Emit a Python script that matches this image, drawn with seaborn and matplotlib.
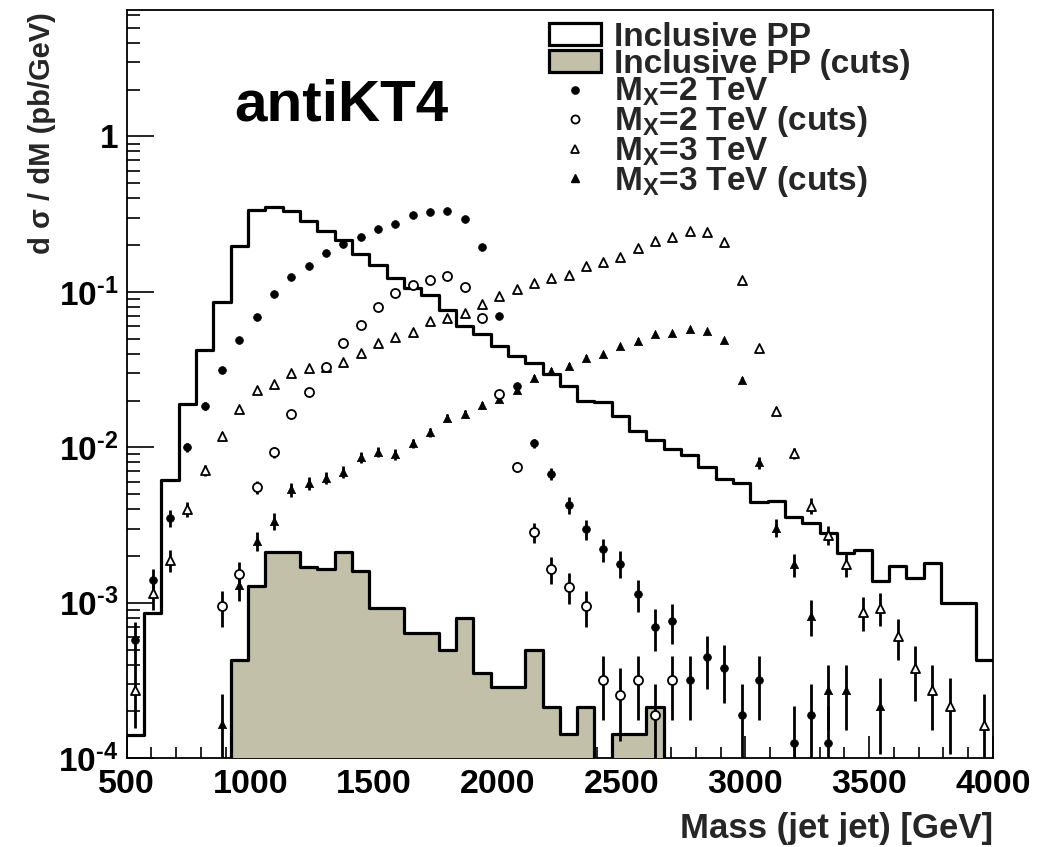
import numpy as np
import pandas as pd
import matplotlib
matplotlib.use("Agg")
import matplotlib.pyplot as plt
import seaborn as sns
from matplotlib.patches import Patch
from matplotlib.lines import Line2D
from matplotlib.ticker import FixedLocator, FixedFormatter, LogLocator, NullFormatter, MultipleLocator

nan = np.nan

# ---------------- data ----------------
bin_edges = list(range(500, 4001, 70))          # 50 bins of 70 GeV
bin_centers = np.array(bin_edges[:-1]) + 35

incl_pp = [1.42e-4, 8.6e-4, 6.15e-3, 0.0189, 0.0423, 0.0859, 0.196, 0.337, 0.354, 0.332,
           0.286, 0.248, 0.214, 0.176, 0.148, 0.122, 0.106, 0.0957, 0.0766, 0.0604,
           0.0537, 0.0451, 0.0389, 0.0347, 0.0295, 0.0249, 0.0199, 0.0197, 0.0160, 0.0127,
           0.0111, 0.00975, 0.0089, 0.0075, 0.00625, 0.00586, 0.00447, 0.00453, 0.00357, 0.00324,
           0.00280, 0.00208, 0.00220, 0.00138, 0.00172, 0.00145, 0.00181, 0.0010, 0.0010, 4.27e-4]

incl_pp_cuts = [0, 0, 0, 0, 0, 0, 4.27e-4, 1.28e-3, 2.11e-3, 2.11e-3,
                1.70e-3, 1.65e-3, 2.11e-3, 1.60e-3, 9.33e-4, 9.33e-4, 6.44e-4, 6.44e-4, 5.0e-4, 7.93e-4,
                3.56e-4, 2.88e-4, 2.88e-4, 5.0e-4, 2.14e-4, 1.44e-4, 2.14e-4, 0, 1.44e-4, 1.44e-4,
                2.14e-4, 0, 0, 0, 0, 0, 0, 0, 0, 0,
                0, 0, 0, 0, 0, 0, 0, 0, 0, 0]

mx2 = [5.74e-4, 1.40e-3, 3.52e-3, 0.0100, 0.0185, 0.0315, 0.0491, 0.0687, 0.0966, 0.124,
       0.146, 0.178, 0.203, 0.224, 0.253, 0.274, 0.313, 0.326, 0.332, 0.294,
       0.193, 0.0703, 0.0249, 0.0106, 6.73e-3, 4.25e-3, 2.98e-3, 2.21e-3, 1.79e-3, 1.14e-3,
       7.0e-4, 7.61e-4, 3.17e-4, 4.45e-4, 3.81e-4, 1.89e-4, 3.17e-4, nan, 1.26e-4, 1.89e-4,
       1.26e-4, nan, nan, nan, nan, nan, nan, nan, nan, nan]
mx2_err = [1.8e-4, 2.6e-4, 4.3e-4, 7.2e-4, 9.9e-4, 1.3e-3, 1.6e-3, 1.9e-3, 2.25e-3, 2.55e-3,
           2.8e-3, 3.05e-3, 3.3e-3, 3.4e-3, 3.6e-3, 3.8e-3, 4.05e-3, 4.1e-3, 4.2e-3, 3.9e-3,
           3.2e-3, 1.9e-3, 1.15e-3, 7.5e-4, 6.0e-4, 5.2e-4, 4.4e-4, 3.7e-4, 3.5e-4, 2.7e-4,
           2.1e-4, 2.2e-4, 1.4e-4, 1.65e-4, 1.55e-4, 1.1e-4, 1.4e-4, nan, 0.9e-4, 1.1e-4,
           0.9e-4, nan, nan, nan, nan, nan, nan, nan, nan, nan]

mx2_cuts = [nan, nan, nan, nan, nan, 9.5e-4, 1.53e-3, 5.53e-3, 9.29e-3, 0.0164,
            0.0228, 0.0330, 0.0472, 0.0613, 0.0797, 0.099, 0.111, 0.119, 0.127, 0.108,
            0.0684, 0.0221, 7.5e-3, 2.86e-3, 1.65e-3, 1.27e-3, 9.5e-4, 3.17e-4, 2.54e-4, 3.17e-4,
            1.89e-4, 3.17e-4, nan, nan, nan, nan, nan, nan, nan, nan,
            nan, nan, nan, nan, nan, nan, nan, nan, nan, nan]
mx2_cuts_err = [nan, nan, nan, nan, nan, 2.5e-4, 3.0e-4, 5.5e-4, 7.0e-4, 9.0e-4,
                1.05e-3, 1.3e-3, 1.5e-3, 1.75e-3, 2.0e-3, 2.2e-3, 2.3e-3, 2.4e-3, 2.5e-3, 2.3e-3,
                1.8e-3, 1.05e-3, 6.0e-4, 4.2e-4, 3.25e-4, 2.85e-4, 2.5e-4, 1.4e-4, 1.25e-4, 1.4e-4,
                1.1e-4, 1.4e-4, nan, nan, nan, nan, nan, nan, nan, nan,
                nan, nan, nan, nan, nan, nan, nan, nan, nan, nan]

mx3 = [2.77e-4, 1.15e-3, 1.88e-3, 4.0e-3, 7.14e-3, 0.0118, 0.0176, 0.0234, 0.0256, 0.0302,
       0.0323, 0.0330, 0.0356, 0.0403, 0.0472, 0.0510, 0.0555, 0.0653, 0.0684, 0.0736,
       0.0833, 0.0947, 0.1046, 0.1138, 0.1236, 0.1286, 0.1477, 0.155, 0.1687, 0.191,
       0.211, 0.224, 0.245, 0.241, 0.209, 0.119, 0.0434, 0.0171, 9.15e-3, 4.21e-3,
       2.72e-3, 1.77e-3, 8.74e-4, 9.33e-4, 6.09e-4, 3.81e-4, 2.74e-4, 2.17e-4, nan, 1.64e-4]
mx3_err = [1.2e-4, 2.5e-4, 3.0e-4, 4.5e-4, 6.0e-4, 7.9e-4, 9.6e-4, 1.1e-3, 1.15e-3, 1.25e-3,
           1.3e-3, 1.3e-3, 1.4e-3, 1.45e-3, 1.6e-3, 1.65e-3, 1.7e-3, 1.85e-3, 1.9e-3, 2.0e-3,
           2.1e-3, 2.25e-3, 2.35e-3, 2.45e-3, 2.55e-3, 2.6e-3, 2.8e-3, 2.85e-3, 3.0e-3, 3.2e-3,
           3.35e-3, 3.45e-3, 3.6e-3, 3.6e-3, 3.35e-3, 2.5e-3, 1.5e-3, 9.5e-4, 7.0e-4, 5.0e-4,
           3.8e-4, 3.1e-4, 2.15e-4, 2.2e-4, 1.83e-4, 1.47e-4, 1.22e-4, 1.1e-4, nan, 0.97e-4]

mx3_cuts = [nan, nan, nan, nan, nan, 1.65e-4, 1.31e-3, 2.5e-3, 3.37e-3, 5.37e-3,
            5.86e-3, 6.37e-3, 6.97e-3, 8.62e-3, 9.37e-3, 9.0e-3, 0.0106, 0.0125, 0.0154, 0.0164,
            0.0187, 0.0205, 0.0235, 0.0278, 0.0311, 0.0335, 0.0378, 0.0397, 0.0449, 0.0486,
            0.0534, 0.0542, 0.0578, 0.0563, 0.0491, 0.0271, 8.0e-3, 3.04e-3, 1.77e-3, 8.24e-4,
            2.74e-4, 2.74e-4, nan, 2.17e-4, nan, nan, nan, nan, nan, nan]
mx3_cuts_err = [nan, nan, nan, nan, nan, 0.96e-4, 2.9e-4, 3.6e-4, 4.2e-4, 5.5e-4,
                5.6e-4, 5.8e-4, 6.1e-4, 6.7e-4, 7.0e-4, 6.9e-4, 7.5e-4, 8.1e-4, 9.0e-4, 9.3e-4,
                1.0e-3, 1.05e-3, 1.1e-3, 1.2e-3, 1.28e-3, 1.33e-3, 1.4e-3, 1.45e-3, 1.55e-3, 1.6e-3,
                1.68e-3, 1.7e-3, 1.75e-3, 1.72e-3, 1.6e-3, 1.2e-3, 7.0e-4, 4.0e-4, 3.05e-4, 2.15e-4,
                1.22e-4, 1.22e-4, nan, 1.1e-4, nan, nan, nan, nan, nan, nan]

y_ticks = [1e-4, 1e-3, 1e-2, 1e-1, 1]
y_tick_labels = ["$10^{\u20104}$", "$10^{\u20103}$", "$10^{\u20102}$", "$10^{\u20101}$", "1"]
x_ticks = [500, 1000, 1500, 2000, 2500, 3000, 3500, 4000]
legend_labels = ["Inclusive PP", "Inclusive PP (cuts)", r"M$_{X}$=2 TeV",
                 r"M$_{X}$=2 TeV (cuts)", r"M$_{X}$=3 TeV", r"M$_{X}$=3 TeV (cuts)"]

# ---------------- style ----------------
sns.set_theme(style="white")
plt.rcParams["font.family"] = ["Liberation Sans", "DejaVu Sans"]
plt.rcParams["font.weight"] = "bold"
plt.rcParams["mathtext.fontset"] = "custom"
plt.rcParams["mathtext.rm"] = "Liberation Sans:bold"
plt.rcParams["mathtext.it"] = "Liberation Sans:bold"
plt.rcParams["mathtext.bf"] = "Liberation Sans:bold"
plt.rcParams["mathtext.default"] = "rm"

fill_col = "#c2c0a9"

df = pd.DataFrame({"mass": bin_centers, "incl": incl_pp, "cuts": incl_pp_cuts})

fig = plt.figure(figsize=(10.49, 8.47), dpi=100)
ax = fig.add_axes([0.12078, 0.10472, 0.82583, 0.88347])
ax.set_yscale("log")

sns.histplot(data=df, x="mass", weights="incl", bins=bin_edges, element="step",
             fill=False, color="black", linewidth=2.3, ax=ax, zorder=2)
sns.histplot(data=df, x="mass", weights="cuts", bins=bin_edges, element="step",
             fill=True, color=fill_col, facecolor=fill_col, edgecolor="black",
             alpha=1, linewidth=2.3, ax=ax, zorder=3)

series = [
    (mx3_cuts, mx3_cuts_err, "^", "black", "black", 6.0, 0.5),
    (mx3, mx3_err, "^", "white", "black", 6.5, 1.3),
    (mx2_cuts, mx2_cuts_err, "o", "white", "black", 6.5, 1.3),
    (mx2, mx2_err, "o", "black", "black", 5.6, 0.5),
]
for vals, errs, mk, fc, ec, ms, mew in series:
    ax.errorbar(bin_centers, vals, yerr=errs, fmt="none", ecolor="black",
                elinewidth=2.0, capsize=0, zorder=4)
for vals, errs, mk, fc, ec, ms, mew in series:
    sns.scatterplot(x=bin_centers, y=vals, marker=mk, s=ms ** 2, color=fc,
                    edgecolor=ec, linewidth=mew, ax=ax, zorder=5)

ax.set_xlim(500, 4000)
ax.set_ylim(1e-4, 6.5)

ax.xaxis.set_major_locator(FixedLocator(x_ticks))
ax.xaxis.set_minor_locator(MultipleLocator(100))
ax.yaxis.set_major_locator(FixedLocator(y_ticks))
ax.yaxis.set_major_formatter(FixedFormatter(y_tick_labels))
ax.yaxis.set_minor_locator(LogLocator(base=10, subs=np.arange(2, 10)))
ax.yaxis.set_minor_formatter(NullFormatter())

ax.tick_params(axis="x", which="major", direction="in", length=15.8, width=1.2,
               labelsize=24.5, pad=8, top=False, bottom=True, colors="black")
ax.tick_params(axis="x", which="minor", direction="in", length=7.9, width=1.2,
               top=False, bottom=True, colors="black")
ax.tick_params(axis="y", which="major", direction="in", length=19.4, width=1.2,
               labelsize=24, pad=6, left=True, right=False, colors="black")
ax.tick_params(axis="y", which="minor", direction="in", length=9.4, width=1.2,
               left=True, right=False, colors="black")
for lab in ax.get_xticklabels() + ax.get_yticklabels():
    lab.set_fontweight("bold")

for sp in ax.spines.values():
    sp.set_visible(True)
    sp.set_color("black")
    sp.set_linewidth(1.3)

ax.set_xlabel("Mass (jet jet) [GeV]", fontsize=25, fontweight="bold", loc="right")
ax.xaxis.set_label_coords(1.0, -0.072)
ax.xaxis.label.set_verticalalignment("top")
ax.set_ylabel("d σ / dM (pb/GeV)", fontsize=21, fontweight="bold", loc="top")
ax.yaxis.set_label_coords(-0.082, 0.997)

ax.text(0.2474, 0.853, "antiKT4", transform=ax.transAxes, ha="center",
        va="baseline", fontsize=42, fontweight="bold", color="black")

handles = [
    Patch(facecolor="white", edgecolor="black", linewidth=2.3),
    Patch(facecolor=fill_col, edgecolor="black", linewidth=2.3),
    Line2D([], [], ls="none", marker="o", markersize=5.2, markerfacecolor="black",
           markeredgecolor="black"),
    Line2D([], [], ls="none", marker="o", markersize=5.8, markerfacecolor="white",
           markeredgecolor="black", markeredgewidth=1.3),
    Line2D([], [], ls="none", marker="^", markersize=6.0, markerfacecolor="white",
           markeredgecolor="black", markeredgewidth=1.3),
    Line2D([], [], ls="none", marker="^", markersize=5.2, markerfacecolor="black",
           markeredgecolor="black"),
]
leg = ax.legend(handles, legend_labels, loc="upper left", bbox_to_anchor=(0.4878, 0.984),
                frameon=False, fontsize=24, handlelength=1.56, handleheight=0.65,
                handletextpad=0.38, labelspacing=-0.12, borderpad=0, borderaxespad=0)
for t in leg.get_texts():
    t.set_fontweight("bold")

fig.savefig("out.png", dpi=100)
